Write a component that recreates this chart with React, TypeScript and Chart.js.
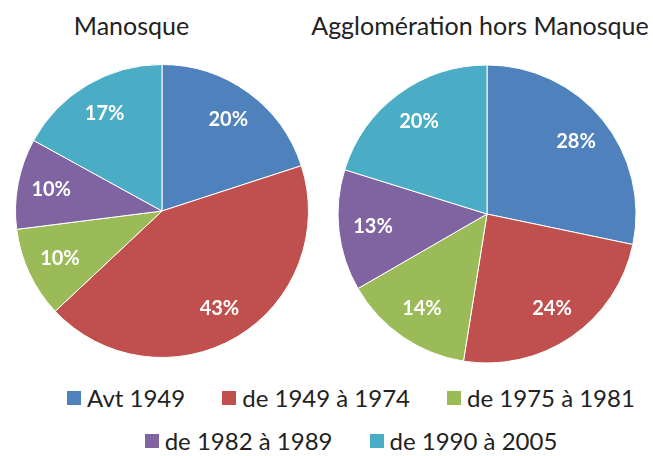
import React, { useEffect, useRef } from "react";
import { Chart, registerables } from "chart.js";

Chart.register(...registerables);

const categories = ["Avt 1949", "de 1949 à 1974", "de 1975 à 1981", "de 1982 à 1989", "de 1990 à 2005"];
const manosqueValues = [20, 43, 10, 10, 17];
const horsManosqueValues = [28, 24, 14, 13, 20];
const titles = ["Manosque", "Agglomération hors Manosque"];
const colors = ["#4F81BD", "#C0504D", "#9BBB59", "#8064A2", "#4BACC6"];

const FONT = "Lato, 'Open Sans', 'Noto Sans', sans-serif";

const pctLabels = {
  id: "pctLabels",
  afterDatasetsDraw(chart: any) {
    const ctx = chart.ctx;
    const meta = chart.getDatasetMeta(0);
    const data = chart.data.datasets[0].data as number[];
    ctx.save();
    ctx.fillStyle = "#ffffff";
    ctx.font = `bold 20px ${FONT}`;
    ctx.textAlign = "center";
    ctx.textBaseline = "middle";
    meta.data.forEach((arc: any, i: number) => {
      const p = arc.getProps(["x", "y", "startAngle", "endAngle", "outerRadius"], true);
      const mid = (p.startAngle + p.endAngle) / 2;
      const r = p.outerRadius * 0.77;
      ctx.fillText(`${data[i]}%`, p.x + Math.cos(mid) * r, p.y + Math.sin(mid) * r);
    });
    ctx.restore();
  },
};

function Pie({ values, size, radius, left, top }: { values: number[]; size: number; radius: number; left: number; top: number }) {
  const ref = useRef<HTMLCanvasElement | null>(null);
  useEffect(() => {
    if (!ref.current) return;
    const chart = new Chart(ref.current, {
      type: "pie",
      data: {
        labels: categories,
        datasets: [
          {
            data: values,
            backgroundColor: colors,
            borderColor: "#ffffff",
            borderWidth: 1,
          },
        ],
      },
      options: {
        responsive: false,
        maintainAspectRatio: false,
        animation: false,
        radius: radius,
        layout: { padding: 0 },
        plugins: {
          legend: { display: false },
          title: { display: false },
          tooltip: { enabled: false },
        },
      } as any,
      plugins: [pctLabels],
    });
    return () => chart.destroy();
  }, []);
  return (
    <canvas
      ref={ref}
      width={size}
      height={size}
      style={{ position: "absolute", left, top, width: size, height: size }}
    />
  );
}

export default function App() {
  const row1 = [0, 1, 2];
  const row2 = [3, 4];
  const legendItem = (i: number) => (
    <div key={i} style={{ display: "flex", alignItems: "center", marginRight: i === 2 || i === 4 ? 0 : 37 }}>
      <span style={{ display: "inline-block", width: 14, height: 14, background: colors[i], marginRight: 6 }} />
      <span>{categories[i]}</span>
    </div>
  );
  return (
    <div
      style={{
        position: "fixed",
        left: 0,
        top: 0,
        width: 653,
        height: 456,
        background: "#ffffff",
        overflow: "hidden",
        fontFamily: FONT,
        color: "#222222",
      }}
    >
      <div style={{ position: "absolute", left: 131.5, top: 10, transform: "translateX(-50%)", fontSize: 25, lineHeight: "30px", whiteSpace: "nowrap" }}>
        {titles[0]}
      </div>
      <div style={{ position: "absolute", left: 480, top: 10, transform: "translateX(-50%)", fontSize: 25, lineHeight: "30px", whiteSpace: "nowrap" }}>
        {titles[1]}
      </div>
      <Pie values={manosqueValues} size={300} radius={146.5} left={11.5} top={60.5} />
      <Pie values={horsManosqueValues} size={310} radius={149} left={331.7} top={59} />
      <div style={{ position: "absolute", left: 49, width: 604, top: 383, fontSize: 24, lineHeight: "30px" }}>
        <div style={{ display: "flex", justifyContent: "center", whiteSpace: "nowrap" }}>{row1.map(legendItem)}</div>
        <div style={{ display: "flex", justifyContent: "center", whiteSpace: "nowrap", marginTop: 13 }}>{row2.map(legendItem)}</div>
      </div>
    </div>
  );
}
